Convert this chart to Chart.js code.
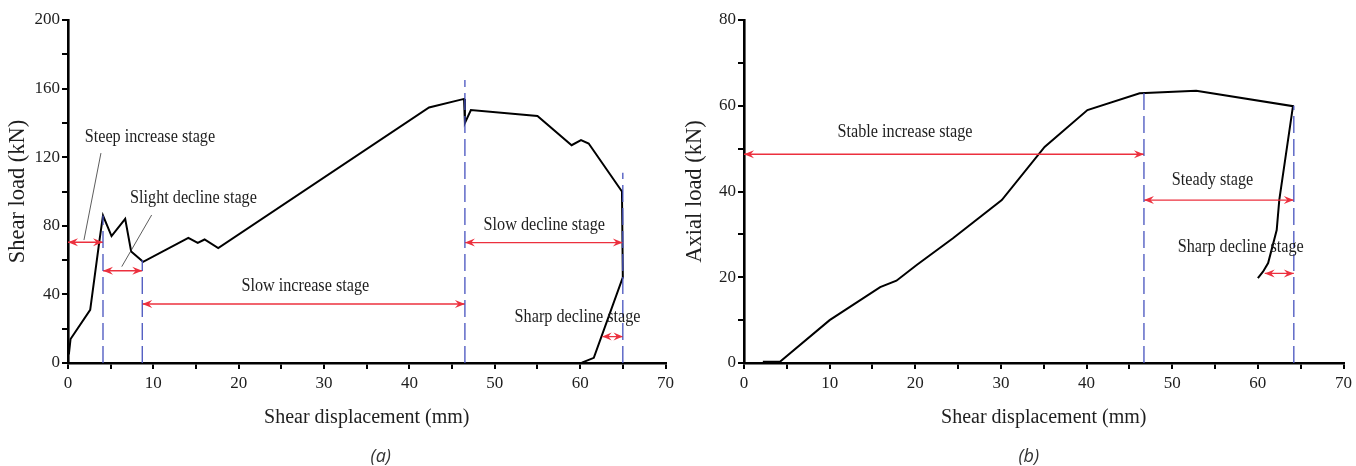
<!DOCTYPE html>
<html>
<head>
<meta charset="utf-8">
<script src="https://cdn.jsdelivr.net/npm/chart.js@4.4.1/dist/chart.umd.min.js"></script>
<style>
  html, body { margin: 0; padding: 0; background: #fff; }
  body { width: 1356px; height: 466px; position: relative; overflow: hidden; }
  canvas { position: absolute; top: 0; }
  #ca { left: 0; }
  #cb { left: 678px; }
</style>
</head>
<body>
<canvas id="ca" width="678" height="466"></canvas>
<canvas id="cb" width="678" height="466"></canvas>
<script>
// ---------- (a) Shear load vs shear displacement ----------
const shearDisp = [0.1, 0.3, 2.6, 3.7, 4.1, 5.1, 6.7, 7.4, 8.8, 14.1, 15.2, 16.0, 17.6, 42.3, 46.4, 46.5, 47.2, 55.0, 59.0, 60.1, 61.0, 64.9, 65.0, 61.6, 60.2];
const shearLoad = [5, 14, 31, 72, 86, 74, 84, 65, 59, 73, 70, 72, 67, 149, 154, 140, 147.5, 144, 127, 130, 128, 100, 50, 3, 0.2];

const boundXA = [4.1, 8.7, 46.5, 65.0];
const boundTopA = [86, 60, 165, 111];

const arrowFromA = [0, 4.1, 8.7, 46.5, 62.6];
const arrowToA = [4.1, 8.7, 46.5, 65.0, 65.0];
const arrowYA = [70.4, 53.8, 34.4, 70.2, 15.4];

const labelTextA = ["Steep increase stage", "Slight decline stage", "Slow increase stage", "Slow decline stage", "Sharp decline stage"];
const labelXA = [9.6, 14.7, 27.8, 55.8, 59.7];
const labelYA = [131.8, 96.2, 44.9, 80.5, 26.8];

const leaderX1A = [3.86, 9.8];
const leaderY1A = [122.4, 86.3];
const leaderX2A = [1.87, 6.3];
const leaderY2A = [71.7, 56.2];

const xTicksA = [0, 10, 20, 30, 40, 50, 60, 70];
const yTicksA = [0, 40, 80, 120, 160, 200];

// ---------- (b) Axial load vs shear displacement ----------
const axialDisp = [2.2, 4.2, 10.0, 15.9, 17.8, 20.2, 24.4, 30.1, 35.1, 40.1, 46.2, 52.8, 64.1, 62.5, 62.2, 61.2, 60.6, 60.0];
const axialLoad = [0.3, 0.3, 10.0, 17.7, 19.2, 22.9, 29.1, 38.0, 50.4, 59.0, 62.9, 63.5, 59.9, 38.0, 31.0, 23.3, 21.3, 19.8];

const boundXB = [46.7, 64.2];
const boundTopB = [63, 60];

const arrowFromB = [0, 46.7, 60.8];
const arrowToB = [46.7, 64.2, 64.2];
const arrowYB = [48.7, 38.0, 20.9];

const labelTextB = ["Stable increase stage", "Steady stage", "Sharp decline stage"];
const labelXB = [18.8, 54.7, 58.0];
const labelYB = [53.9, 42.7, 27.1];

const xTicksB = [0, 10, 20, 30, 40, 50, 60, 70];
const yTicksB = [0, 20, 40, 60, 80];

// ---------- styling ----------
const SERIF = "'Liberation Serif', 'Times New Roman', serif";
const RED = 'rgb(236,48,62)';
const BLUE = 'rgb(70,82,190)';
const INK = '#1e1e1e';

function pts(xs, ys) { return xs.map((x, i) => ({ x: x, y: ys[i] })); }

function buildDatasets(dispArr, loadArr, bX, bTop, aFrom, aTo, aY, lX1, lY1, lX2, lY2) {
  const ds = [];
  bX.forEach((x, i) => ds.push({
    data: [{ x: x, y: 0 }, { x: x, y: bTop[i] }],
    borderColor: BLUE, borderWidth: 1.3, borderDash: [17, 6], pointRadius: 0, showLine: true
  }));
  aFrom.forEach((x, i) => ds.push({
    data: [{ x: x, y: aY[i] }, { x: aTo[i], y: aY[i] }],
    borderColor: RED, borderWidth: 1.4, pointRadius: 0, showLine: true, arrow: true
  }));
  (lX1 || []).forEach((x, i) => ds.push({
    data: [{ x: x, y: lY1[i] }, { x: lX2[i], y: lY2[i] }],
    borderColor: '#333', borderWidth: 0.8, pointRadius: 0, showLine: true
  }));
  ds.push({
    data: pts(dispArr, loadArr),
    borderColor: '#000', borderWidth: 2, pointRadius: 0, showLine: true, tension: 0
  });
  return ds;
}

const annotate = {
  id: 'annotate',
  afterDatasetsDraw(chart) {
    const o = chart.options.plugins.annotate;
    const ctx = chart.ctx, xs = chart.scales.x, ys = chart.scales.y;
    ctx.save();
    // arrow heads
    chart.data.datasets.forEach(d => {
      if (!d.arrow) return;
      const p0 = { x: xs.getPixelForValue(d.data[0].x), y: ys.getPixelForValue(d.data[0].y) };
      const p1 = { x: xs.getPixelForValue(d.data[1].x), y: ys.getPixelForValue(d.data[1].y) };
      const span = Math.abs(p1.x - p0.x);
      const L = Math.min(10, span / 2.2), W = Math.min(4, L * 0.45);
      [[p0, -1], [p1, 1]].forEach(([p, dir]) => {
        ctx.beginPath();
        ctx.moveTo(p.x, p.y);
        ctx.lineTo(p.x - dir * L, p.y - W);
        ctx.lineTo(p.x - dir * L * 0.65, p.y);
        ctx.lineTo(p.x - dir * L, p.y + W);
        ctx.closePath();
        ctx.fillStyle = RED;
        ctx.fill();
      });
    });
    // stage labels (slightly condensed serif, like the source figure)
    ctx.fillStyle = INK;
    ctx.font = "18px " + SERIF;
    ctx.textAlign = 'center';
    ctx.textBaseline = 'middle';
    o.text.forEach((t, i) => {
      ctx.save();
      ctx.translate(xs.getPixelForValue(o.x[i]), ys.getPixelForValue(o.y[i]));
      ctx.scale(0.9, 1);
      ctx.fillText(t, 0, 0);
      ctx.restore();
    });
    // caption
    ctx.font = "italic 18px 'Open Sans', 'Noto Sans', sans-serif";
    ctx.fillStyle = '#333';
    ctx.fillText(o.caption, (chart.chartArea.left + chart.chartArea.right) / 2 + o.capShift, 457);
    ctx.restore();
  }
};

function makeOptions(cfg) {
  return {
    responsive: false,
    animation: false,
    devicePixelRatio: 1,
    layout: { padding: { top: 20, right: 12, left: 0, bottom: 0 } },
    plugins: {
      legend: { display: false },
      tooltip: { enabled: false },
      annotate: cfg.annot
    },
    scales: {
      x: {
        type: 'linear', min: 0, max: 70,
        afterFit: s => { s.height = 103; },
        afterBuildTicks: s => { s.ticks = []; for (let v = 0; v <= 70; v += 5) s.ticks.push({ value: v }); },
        ticks: {
          autoSkip: false, maxRotation: 0, padding: 4, color: INK,
          font: { family: SERIF, size: 17 },
          callback: v => (cfg.xTicks.includes(v) ? String(v) : '')
        },
        grid: { drawOnChartArea: false, drawTicks: true, tickLength: 6, color: '#000', lineWidth: 2 },
        border: { display: true, color: '#000', width: 2.6 },
        title: {
          display: true, text: 'Shear displacement (mm)', color: INK,
          font: { family: SERIF, size: 20 }, padding: { top: 0, bottom: 36 }
        }
      },
      y: {
        type: 'linear', min: 0, max: cfg.yMax,
        afterFit: s => { s.width = cfg.yWidth; },
        afterBuildTicks: s => { s.ticks = []; for (let v = 0; v <= cfg.yMax; v += cfg.yMinor) s.ticks.push({ value: v }); },
        ticks: {
          autoSkip: false, padding: 2, color: INK,
          font: { family: SERIF, size: 17 },
          callback: v => (cfg.yTicks.includes(v) ? String(v) : '')
        },
        grid: { drawOnChartArea: false, drawTicks: true, tickLength: 6, color: '#000', lineWidth: 2 },
        border: { display: true, color: '#000', width: 2.6 },
        title: {
          display: true, text: cfg.yTitle, color: INK,
          font: { family: SERIF, size: 22.5 }, padding: { top: cfg.yTitlePad, bottom: 0 }
        }
      }
    }
  };
}

new Chart(document.getElementById('ca'), {
  type: 'scatter',
  data: { datasets: buildDatasets(shearDisp, shearLoad, boundXA, boundTopA, arrowFromA, arrowToA, arrowYA, leaderX1A, leaderY1A, leaderX2A, leaderY2A) },
  options: makeOptions({
    yMax: 200, yMinor: 20, yWidth: 68, yTicks: yTicksA, xTicks: xTicksA,
    yTitle: 'Shear load (kN)', yTitlePad: 4.5,
    annot: { text: labelTextA, x: labelXA, y: labelYA, caption: '(a)', capShift: 14 }
  }),
  plugins: [annotate]
});

new Chart(document.getElementById('cb'), {
  type: 'scatter',
  data: { datasets: buildDatasets(axialDisp, axialLoad, boundXB, boundTopB, arrowFromB, arrowToB, arrowYB) },
  options: makeOptions({
    yMax: 80, yMinor: 10, yWidth: 66, yTicks: yTicksB, xTicks: xTicksB,
    yTitle: 'Axial load (kN)', yTitlePad: 3.5,
    annot: { text: labelTextB, x: labelXB, y: labelYB, caption: '(b)', capShift: -15 }
  }),
  plugins: [annotate]
});
</script>
</body>
</html>
